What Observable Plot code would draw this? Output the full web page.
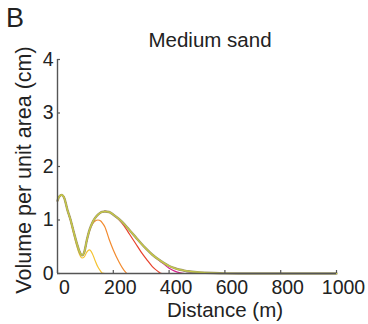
<!DOCTYPE html>
<html>
<head>
<meta charset="utf-8">
<script src="https://cdn.jsdelivr.net/npm/d3@7"></script>
<script src="https://cdn.jsdelivr.net/npm/@observablehq/plot@0.6"></script>
<style>
  html, body { margin: 0; padding: 0; background: #fff; }
  svg { display: block; overflow: visible; }
</style>
</head>
<body>
<div id="chart"></div>
<script>
const panelLetter = "B";
const title = "Medium sand";
const xLabel = "Distance (m)";
const yLabel = "Volume per unit area (cm)";
const xTicks = [0, 200, 400, 600, 800, 1000];
const yTicks = [0, 1, 2, 3, 4];

const distance = [0,5,15,25,35,47,58,70,78,88,96,105,115,125,135,145,155,160,170,185,200,220,240,250,260,280,300,320,340,360,370,380,400,420,440,455,470,500,530,560,600,650,700,800,900,1000];

const mainVol = [1.36,1.43,1.47,1.40,1.20,1.00,0.78,0.55,0.42,0.34,0.40,0.62,0.82,0.95,1.04,1.10,1.14,1.15,1.16,1.15,1.10,1.02,0.92,0.86,0.80,0.68,0.56,0.45,0.35,0.27,0.235,0.20,0.14,0.10,0.07,0.055,0.042,0.025,0.015,0.008,0.002,0,0,0,0,0];
const oliveVol = mainVol;
const yellowGreenVol = mainVol;
const purpleVol = [1.36,1.43,1.47,1.40,1.20,1.00,0.78,0.55,0.42,0.34,0.40,0.62,0.82,0.95,1.04,1.10,1.14,1.15,1.16,1.15,1.10,1.02,0.92,0.86,0.80,0.68,0.56,0.45,0.35,0.27,0.235,0.20,0.14,0.10,0.065,0.045,0.03,0.012,0.003,0,0,0,0,0,0,0];
const magentaVol = [1.36,1.43,1.47,1.40,1.20,1.00,0.78,0.55,0.42,0.34,0.40,0.62,0.82,0.95,1.04,1.10,1.14,1.15,1.16,1.15,1.10,1.02,0.92,0.86,0.80,0.68,0.56,0.45,0.35,0.26,0.22,0.18,0.10,0.045,0.012,0,0,0,0,0,0,0,0,0,0,0];
const redVol = [1.36,1.43,1.47,1.40,1.20,1.00,0.78,0.55,0.42,0.34,0.40,0.62,0.82,0.95,1.04,1.10,1.14,1.15,1.16,1.15,1.10,1.01,0.88,0.80,0.72,0.56,0.40,0.26,0.13,0.04,0.005,0,0,0,0,0,0,0,0,0,0,0,0,0,0,0];
const orangeVol = [1.36,1.43,1.47,1.40,1.20,1.00,0.78,0.55,0.42,0.34,0.40,0.62,0.80,0.92,0.98,1.00,0.98,0.95,0.87,0.64,0.44,0.22,0.05,0,0,0,0,0,0,0,0,0,0,0,0,0,0,0,0,0,0,0,0,0,0,0];
const yellowVol = [1.36,1.43,1.47,1.40,1.19,0.98,0.74,0.50,0.37,0.29,0.31,0.40,0.44,0.37,0.24,0.12,0.04,0.01,0,0,0,0,0,0,0,0,0,0,0,0,0,0,0,0,0,0,0,0,0,0,0,0,0,0,0,0];

// drawing order: bottom to top
const seriesNames = ["red","magenta","purple","yellow","orange","olive","yellowGreen"];
const seriesValues = [redVol, magentaVol, purpleVol, yellowVol, orangeVol, oliveVol, yellowGreenVol];
const seriesColors = {olive:"#a39c6c", yellowGreen:"#c9cf40", purple:"#8e2a8c", magenta:"#d4238c", red:"#e8412c", orange:"#f28a2e", yellow:"#f5c330"};
const seriesWidths = {olive:2.4, yellowGreen:1.1, purple:1.2, magenta:1.2, red:1.2, orange:1.2, yellow:1.2};

const font = "'Liberation Sans', Arial, Helvetica, sans-serif";

const lineMarks = seriesNames.map((name, i) => {
  const rows = distance.map((d, j) => ({x: d, y: seriesValues[i][j]}));
  return Plot.line(rows, {x: "x", y: "y", stroke: seriesColors[name], strokeWidth: seriesWidths[name], curve: "monotone-x"});
});

const plot = Plot.plot({
  width: 368,
  height: 324,
  marginLeft: 57,
  marginRight: 32,
  marginTop: 59,
  marginBottom: 51,
  style: {fontFamily: font, fontSize: "19px", color: "#222", background: "#fff", overflow: "visible"},
  x: {domain: [0, 1000]},
  y: {domain: [0, 4]},
  marks: [
    ...lineMarks,
    Plot.axisX({ticks: xTicks, tickSize: 0, tickPadding: 7, dx: 7, label: null, tickFormat: d => String(d), fill: "#222", fontSize: 19.5}),
    Plot.axisY({ticks: yTicks, tickSize: 0, tickPadding: 4, label: null, tickFormat: d => String(d), fill: "#222", fontSize: 19.5}),
    Plot.ruleX(xTicks, {x: d => d, y1: 0, y2: 0, insetTop: -3, stroke: "#555", strokeWidth: 1.2}),
    Plot.ruleY(yTicks, {y: d => d, x1: 0, x2: 0, insetRight: -3, stroke: "#555", strokeWidth: 1.2}),
    Plot.ruleY([0], {stroke: "#555", strokeWidth: 1.4}),
    Plot.ruleX([0], {y1: 0, y2: 4, stroke: "#555", strokeWidth: 1.4})
  ]
});

const svg = d3.select(plot);
const addText = (x, y, size, anchor, txt, transform) => {
  const t = svg.append("text")
    .style("font-size", size + "px")
    .style("font-family", font)
    .attr("fill", "#222")
    .attr("text-anchor", anchor)
    .text(txt);
  if (transform) t.attr("transform", transform);
  else t.attr("x", x).attr("y", y);
  return t;
};
addText(6, 27, 27, "start", panelLetter);
addText(210, 47, 20.5, "middle", title);
addText(225, 317, 20.5, "middle", xLabel);
addText(0, 0, 21.5, "middle", yLabel, "translate(31,170) rotate(-90)");

document.getElementById("chart").appendChild(plot);
</script>
</body>
</html>
